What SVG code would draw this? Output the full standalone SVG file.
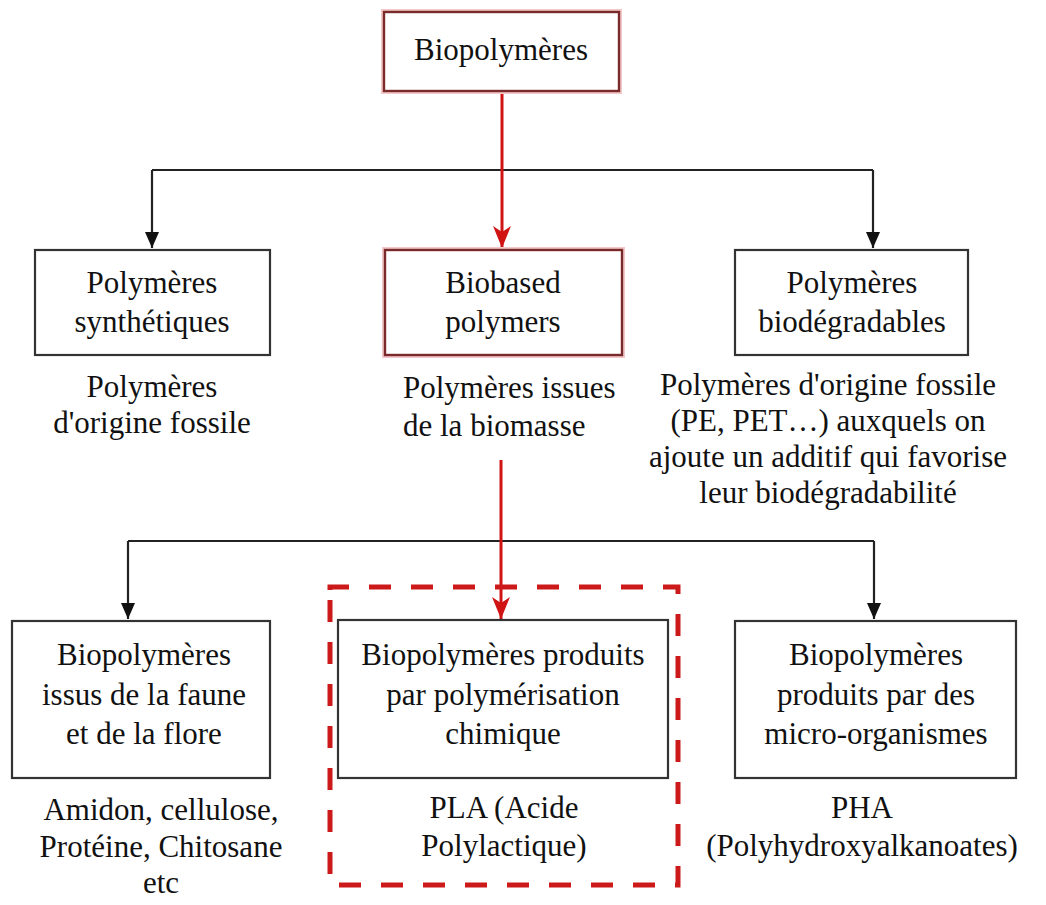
<svg xmlns="http://www.w3.org/2000/svg" width="1046" height="905" viewBox="0 0 1046 905">
  <defs>
    <marker id="arrBlack" viewBox="0 0 16 14" refX="16" refY="7" markerWidth="16" markerHeight="14" markerUnits="userSpaceOnUse" orient="auto">
      <path d="M0,0 L16,7 L0,14 z" fill="#111"/>
    </marker>
    <marker id="arrRed" viewBox="0 0 22 18" refX="22" refY="9" markerWidth="22" markerHeight="18" markerUnits="userSpaceOnUse" orient="auto">
      <path d="M0,0 L22,9 L0,18 L6,9 z" fill="#d01414"/>
    </marker>
    <style>
      .box { fill: #ffffff; stroke: #333333; stroke-width: 2.2; }
      .boxRed { fill: #ffffff; stroke: #7a2a2a; stroke-width: 2.4; }
      .glow { fill: none; stroke: #f3c8c8; stroke-width: 6; }
      .t { font-family: "Liberation Serif", "Times New Roman", serif; font-size: 31px; fill: #111111; text-anchor: middle; }
      .ts { text-anchor: start; }
      .conn { fill: none; stroke: #222222; stroke-width: 2.2; }
      .connRed { fill: none; stroke: #d01414; stroke-width: 3; }
      .dash { fill: none; stroke: #cc1a1a; stroke-width: 5; stroke-dasharray: 22 20; }
    </style>
  </defs>

  <rect width="1046" height="905" fill="#ffffff"/>

  <g id="connectors">
    <path class="conn" d="M152,170 H873"/>
    <path class="conn" d="M152,170 V248" marker-end="url(#arrBlack)"/>
    <path class="conn" d="M873,170 V248" marker-end="url(#arrBlack)"/>
    <path class="connRed" d="M502,91 V248" marker-end="url(#arrRed)"/>
    <path class="conn" d="M128,541 H874"/>
    <path class="conn" d="M128,541 V619" marker-end="url(#arrBlack)"/>
    <path class="conn" d="M874,541 V619" marker-end="url(#arrBlack)"/>
    <path class="connRed" d="M501,460 V619" marker-end="url(#arrRed)"/>
  </g>

  <g id="highlight-frame">
    <path class="dash" d="M330,600 V885 H678 V587 H330 Z"/>
  </g>

  <g id="node-biopolymeres">
    <rect class="glow" x="384" y="12" width="235" height="79"/>
    <rect class="boxRed" x="384" y="12" width="235" height="79"/>
    <text class="t" x="501" y="60">Biopolymères</text>
  </g>

  <g id="node-synthetiques">
    <rect class="box" x="35" y="250" width="235" height="105"/>
    <text class="t" x="152" y="293">Polymères</text>
    <text class="t" x="152" y="332">synthétiques</text>
    <text class="t" x="152" y="397">Polymères</text>
    <text class="t" x="152" y="433">d'origine fossile</text>
  </g>

  <g id="node-biobased">
    <rect class="glow" x="385" y="250" width="237" height="105"/>
    <rect class="boxRed" x="385" y="250" width="237" height="105"/>
    <text class="t" x="503" y="293">Biobased</text>
    <text class="t" x="503" y="332">polymers</text>
    <text class="t ts" x="403" y="398">Polymères issues</text>
    <text class="t ts" x="403" y="436">de la biomasse</text>
  </g>

  <g id="node-biodegradables">
    <rect class="box" x="735" y="250" width="233" height="105"/>
    <text class="t" x="852" y="293">Polymères</text>
    <text class="t" x="852" y="332">biodégradables</text>
    <text class="t" x="828" y="395">Polymères d'origine fossile</text>
    <text class="t" x="828" y="431">(PE, PET…) auxquels on</text>
    <text class="t" x="828" y="467">ajoute un additif qui favorise</text>
    <text class="t" x="828" y="503">leur biodégradabilité</text>
  </g>

  <g id="node-faune-flore">
    <rect class="box" x="12" y="621" width="258" height="157"/>
    <text class="t" x="144" y="665">Biopolymères</text>
    <text class="t" x="144" y="705">issus de la faune</text>
    <text class="t" x="144" y="744">et de la flore</text>
    <text class="t" x="161" y="820">Amidon, cellulose,</text>
    <text class="t" x="161" y="857">Protéine, Chitosane</text>
    <text class="t" x="161" y="893">etc</text>
  </g>

  <g id="node-chimique">
    <rect class="box" x="338" y="620" width="330" height="158"/>
    <text class="t" x="503" y="665">Biopolymères produits</text>
    <text class="t" x="503" y="705">par polymérisation</text>
    <text class="t" x="503" y="744">chimique</text>
    <text class="t" x="504" y="818">PLA (Acide</text>
    <text class="t" x="504" y="856">Polylactique)</text>
  </g>

  <g id="node-microorganismes">
    <rect class="box" x="735" y="621" width="281" height="157"/>
    <text class="t" x="876" y="665">Biopolymères</text>
    <text class="t" x="876" y="705">produits par des</text>
    <text class="t" x="876" y="744">micro-organismes</text>
    <text class="t" x="862" y="818">PHA</text>
    <text class="t" x="862" y="856">(Polyhydroxyalkanoates)</text>
  </g>
</svg>
